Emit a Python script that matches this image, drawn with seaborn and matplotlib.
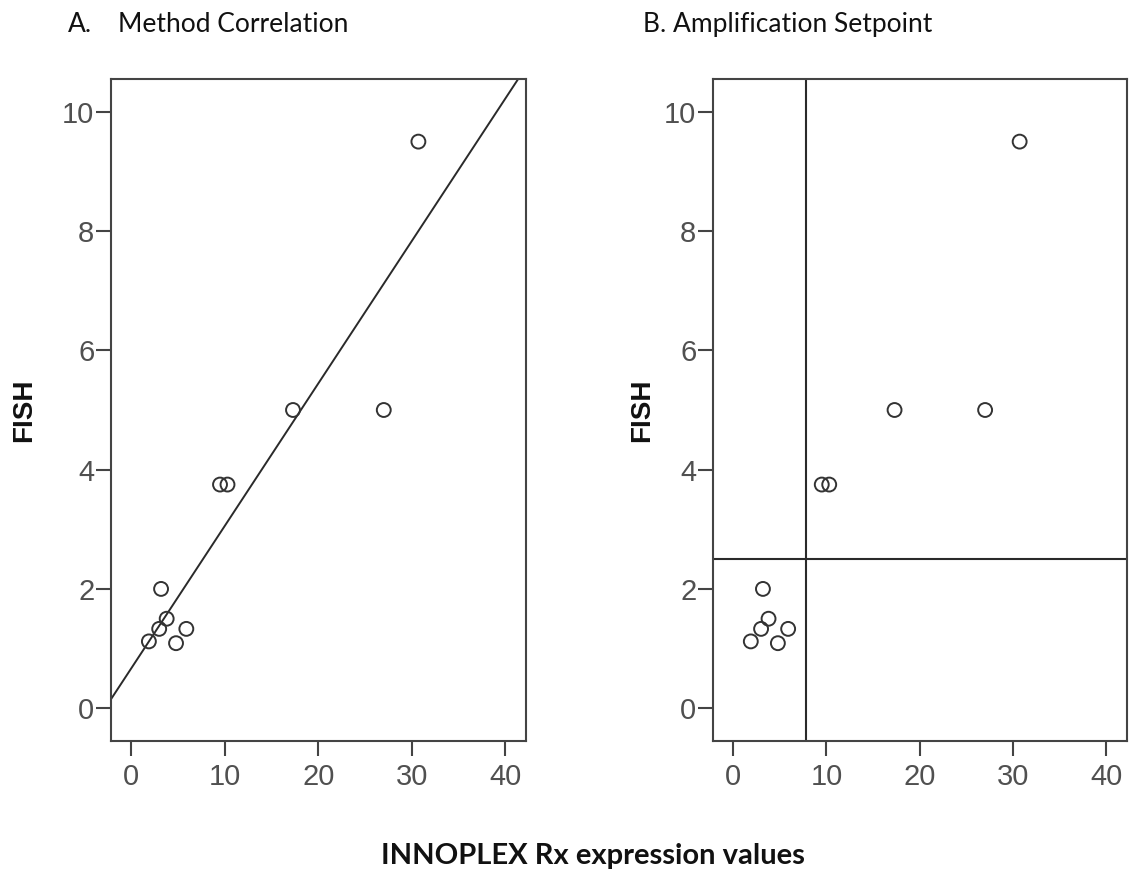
import numpy as np
import pandas as pd
import matplotlib
matplotlib.use("Agg")
import matplotlib.pyplot as plt
import seaborn as sns

# Data
innoplex = [3.2, 3.8, 3.0, 1.9, 4.8, 5.9, 9.5, 10.3, 17.3, 27.0, 30.7]
fish = [2.0, 1.5, 1.33, 1.12, 1.09, 1.33, 3.75, 3.75, 5.0, 5.0, 9.5]
x_ticks = [0, 10, 20, 30, 40]
y_ticks = [0, 2, 4, 6, 8, 10]
setpoint_x = 7.8
setpoint_y = 2.5
titles = ["A.", "Method Correlation", "B. Amplification Setpoint"]
x_label = "INNOPLEX Rx expression values"
y_label = "FISH"

df = pd.DataFrame({"INNOPLEX": innoplex, "FISH": fish})

sns.set_style("ticks")
plt.rcParams["font.family"] = ["Liberation Sans", "DejaVu Sans"]

fig = plt.figure(figsize=(11.29, 8.71), dpi=100)
W, H = 1129, 871
def frac(l, t, r, b):
    return [l / W, 1 - b / H, (r - l) / W, (b - t) / H]

ax1 = fig.add_axes(frac(111, 79, 526, 741))
ax2 = fig.add_axes(frac(713, 79, 1127, 741))

spine_col = "#444444"
tick_lab_col = "#505050"
pt_col = "#333333"

def style(ax):
    ax.set_xlim(-2.15, 42.2)
    ax.set_ylim(-0.55, 10.55)
    ax.set_xticks(x_ticks)
    ax.set_yticks(y_ticks)
    for s in ax.spines.values():
        s.set_visible(True)
        s.set_color(spine_col)
        s.set_linewidth(1.5)
    ax.tick_params(axis="both", direction="out", length=11, width=1.5,
                   color=spine_col, labelsize=21, labelcolor=tick_lab_col)
    ax.tick_params(axis="y", pad=1)
    ax.tick_params(axis="x", pad=5)
    ax.set_xlabel("")
    ax.set_ylabel("")

style(ax1)
style(ax2)

scatter_kw = dict(s=100, facecolors="none", edgecolors=pt_col, linewidths=1.4,
                  alpha=1, zorder=3)

sns.regplot(data=df, x="INNOPLEX", y="FISH", ax=ax1, ci=None, truncate=False,
            scatter_kws=scatter_kw,
            line_kws=dict(color="#2a2a2a", linewidth=1.4, zorder=2))
style(ax1)

sns.scatterplot(data=df, x="INNOPLEX", y="FISH", ax=ax2, marker="o",
                s=100, facecolor="none", edgecolor=pt_col, linewidth=1.4, zorder=3)
ax2.axvline(setpoint_x, color="#2a2a2a", linewidth=1.5, zorder=2)
ax2.axhline(setpoint_y, color="#2a2a2a", linewidth=1.5, zorder=2)
style(ax2)

for xpix in (24, 642):
    fig.text(xpix / W, 1 - 410 / H, y_label, rotation=90, ha="center", va="center",
             fontsize=20, fontweight="bold", color="#111111",
             family=["Liberation Sans", "DejaVu Sans"])

title_font = ["Lato", "DejaVu Sans"]
fig.text(68 / W, 1 - 32 / H, titles[0], ha="left", va="baseline", fontsize=19,
         color="#111111", family=title_font)
fig.text(118 / W, 1 - 32 / H, titles[1], ha="left", va="baseline", fontsize=19,
         color="#111111", family=title_font)
fig.text(643 / W, 1 - 32 / H, titles[2], ha="left", va="baseline", fontsize=19,
         color="#111111", family=title_font)
fig.text(593 / W, 1 - 864 / H, x_label, ha="center", va="baseline", fontsize=21,
         fontweight="bold", color="#111111", family=title_font)

fig.savefig("out.png", dpi=100)
